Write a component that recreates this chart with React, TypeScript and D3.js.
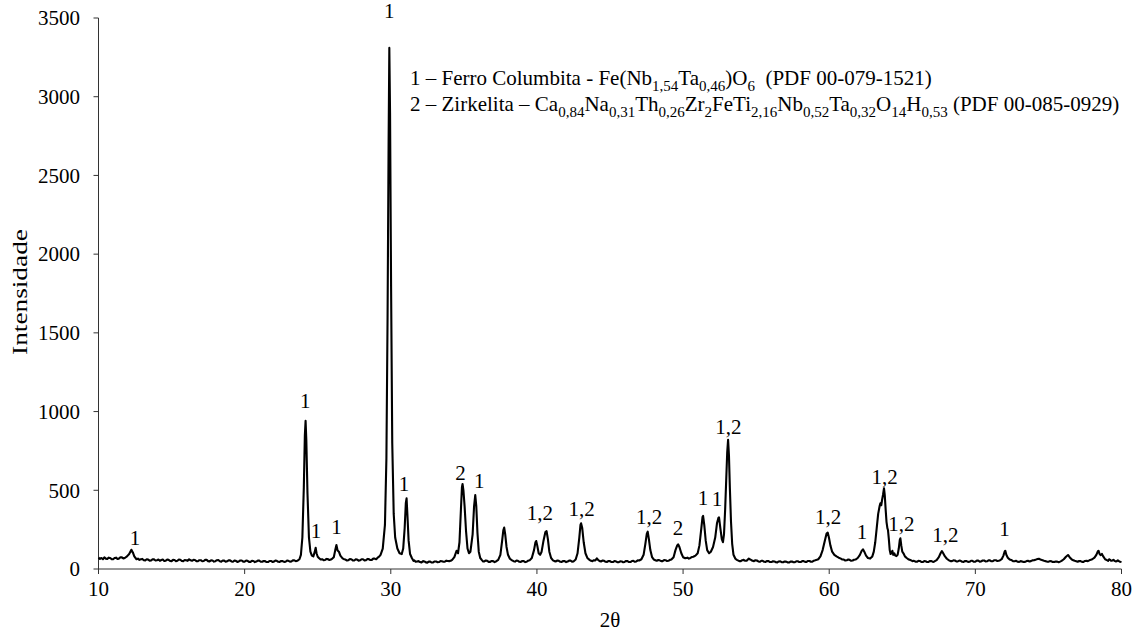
import React from "react";
import * as d3 from "d3";

// X-ray diffraction pattern: [2θ, intensity]
const pattern: [number, number][] = [
  [10.0,72],[10.1,64],[10.2,70],[10.3,62],[10.4,74],[10.5,66],[10.6,64],[10.7,72],[10.8,70],[10.9,63],[11.0,62],[11.1,70],[11.2,72],[11.3,64],[11.4,66],[11.5,75],[11.6,74],[11.7,67],[11.8,70],[11.95,80],[12.1,95],[12.25,122],[12.35,105],[12.45,80],[12.6,62],[12.7,66],[12.8,58],[12.9,62],[13.0,64],[13.1,56],[13.2,55],[13.3,62],[13.4,60],[13.5,53],[13.6,54],[13.7,62],[13.8,61],[13.9,54],[14.0,56],[14.1,60],[14.2,52],[14.3,57],[14.4,60],[14.5,51],[14.6,53],[14.7,60],[14.8,58],[14.9,51],[15.0,50],[15.1,58],[15.2,57],[15.3,50],[15.4,52],[15.5,60],[15.6,59],[15.7,51],[15.8,50],[15.9,57],[16.0,56],[16.1,52],[16.2,62],[16.3,55],[16.4,52],[16.5,58],[16.6,57],[16.7,50],[16.8,49],[16.9,56],[17.0,56],[17.1,49],[17.2,51],[17.3,58],[17.4,58],[17.5,50],[17.6,48],[17.7,55],[17.8,54],[17.9,47],[18.0,50],[18.1,56],[18.2,57],[18.3,49],[18.4,47],[18.5,54],[18.6,53],[18.7,46],[18.8,49],[18.9,55],[19.0,55],[19.1,48],[19.2,46],[19.3,53],[19.4,52],[19.5,45],[19.6,48],[19.7,54],[19.8,54],[19.9,47],[20.0,47],[20.1,53],[20.2,52],[20.3,45],[20.4,45],[20.5,52],[20.6,51],[20.7,44],[20.8,47],[20.9,53],[21.0,53],[21.1,46],[21.2,46],[21.3,51],[21.4,50],[21.5,44],[21.6,44],[21.7,51],[21.8,51],[21.9,45],[22.0,47],[22.1,53],[22.2,52],[22.3,46],[22.4,45],[22.5,51],[22.6,50],[22.7,45],[22.8,46],[22.9,53],[23.0,52],[23.1,47],[23.2,48],[23.3,56],[23.4,55],[23.5,50],[23.6,52],[23.75,62],[23.85,90],[23.95,200],[24.05,520],[24.12,850],[24.17,942],[24.22,820],[24.3,480],[24.4,200],[24.5,110],[24.6,85],[24.7,80],[24.8,110],[24.86,135],[24.92,100],[25.0,78],[25.1,68],[25.2,60],[25.3,62],[25.4,56],[25.5,57],[25.6,64],[25.7,63],[25.8,57],[25.9,60],[26.0,66],[26.1,75],[26.2,120],[26.28,152],[26.36,118],[26.45,110],[26.55,85],[26.7,68],[26.8,62],[26.9,60],[27.0,54],[27.1,56],[27.2,63],[27.3,62],[27.4,55],[27.5,54],[27.6,61],[27.7,60],[27.8,53],[27.9,55],[28.0,62],[28.1,62],[28.2,55],[28.3,56],[28.4,64],[28.5,63],[28.6,57],[28.7,58],[28.8,66],[28.9,66],[29.0,62],[29.1,72],[29.2,78],[29.3,90],[29.45,130],[29.6,280],[29.7,700],[29.78,1600],[29.85,2700],[29.9,3310],[29.95,2900],[30.02,1800],[30.1,800],[30.2,350],[30.3,200],[30.45,130],[30.6,100],[30.75,95],[30.85,130],[30.95,260],[31.03,420],[31.08,449],[31.14,340],[31.22,180],[31.32,95],[31.45,68],[31.55,52],[31.6,55],[31.7,46],[31.8,48],[31.9,50],[32.0,44],[32.1,41],[32.2,50],[32.3,48],[32.4,42],[32.5,40],[32.6,47],[32.7,47],[32.8,41],[32.9,42],[33.0,48],[33.1,48],[33.2,43],[33.3,44],[33.4,50],[33.5,49],[33.6,46],[33.7,47],[33.8,53],[33.9,51],[34.0,50],[34.1,52],[34.2,58],[34.35,75],[34.5,116],[34.6,100],[34.7,170],[34.8,380],[34.87,520],[34.91,540],[34.97,500],[35.05,400],[35.15,240],[35.25,130],[35.35,100],[35.45,110],[35.6,220],[35.7,400],[35.78,470],[35.85,400],[35.93,230],[36.02,110],[36.12,70],[36.25,55],[36.32,48],[36.4,48],[36.5,54],[36.6,52],[36.7,45],[36.8,45],[36.9,51],[37.0,50],[37.1,44],[37.2,48],[37.35,58],[37.5,90],[37.62,180],[37.7,245],[37.76,263],[37.83,220],[37.92,140],[38.02,90],[38.15,65],[38.3,55],[38.4,50],[38.5,47],[38.6,53],[38.7,52],[38.8,46],[38.9,45],[39.0,51],[39.1,50],[39.2,44],[39.3,46],[39.4,53],[39.5,55],[39.65,70],[39.8,120],[39.9,170],[39.95,178],[40.02,150],[40.12,100],[40.22,90],[40.32,110],[40.45,180],[40.58,235],[40.66,241],[40.75,190],[40.85,110],[40.97,70],[41.1,55],[41.2,50],[41.3,48],[41.4,54],[41.5,52],[41.6,46],[41.7,45],[41.8,51],[41.9,50],[42.0,44],[42.1,47],[42.2,53],[42.3,53],[42.4,47],[42.5,48],[42.65,60],[42.78,100],[42.9,200],[42.98,280],[43.02,290],[43.1,260],[43.2,170],[43.32,100],[43.45,70],[43.6,58],[43.7,52],[43.8,50],[43.9,56],[44.0,55],[44.1,68],[44.2,56],[44.3,50],[44.4,48],[44.5,54],[44.6,52],[44.7,46],[44.8,45],[44.9,51],[45.0,50],[45.1,44],[45.2,44],[45.3,50],[45.4,49],[45.5,43],[45.6,43],[45.7,49],[45.8,48],[45.9,43],[46.0,45],[46.1,51],[46.2,50],[46.3,44],[46.4,44],[46.5,51],[46.6,52],[46.7,46],[46.8,48],[46.9,55],[47.0,54],[47.15,62],[47.3,90],[47.42,160],[47.52,225],[47.58,237],[47.66,190],[47.76,120],[47.88,75],[48.0,60],[48.1,56],[48.2,52],[48.3,57],[48.4,55],[48.5,50],[48.6,50],[48.7,57],[48.8,56],[48.9,51],[49.0,52],[49.1,58],[49.2,60],[49.35,75],[49.48,120],[49.6,150],[49.66,157],[49.75,140],[49.88,100],[50.0,75],[50.15,68],[50.3,72],[50.4,66],[50.5,70],[50.6,76],[50.7,78],[50.85,85],[51.0,100],[51.12,150],[51.25,260],[51.33,330],[51.37,337],[51.45,280],[51.55,180],[51.65,120],[51.78,100],[51.9,110],[52.05,140],[52.2,200],[52.32,290],[52.42,325],[52.46,328],[52.55,260],[52.65,190],[52.73,170],[52.8,220],[52.88,380],[52.95,560],[53.02,740],[53.08,820],[53.14,720],[53.2,520],[53.28,300],[53.36,160],[53.45,90],[53.58,65],[53.68,58],[53.75,55],[53.85,50],[53.95,50],[54.05,56],[54.15,58],[54.25,52],[54.35,52],[54.45,62],[54.5,66],[54.6,60],[54.65,58],[54.75,52],[54.85,50],[54.95,56],[55.05,54],[55.15,48],[55.25,46],[55.35,52],[55.45,52],[55.55,46],[55.65,45],[55.75,51],[55.85,50],[55.95,44],[56.05,44],[56.15,49],[56.25,48],[56.35,43],[56.45,42],[56.55,48],[56.65,49],[56.75,43],[56.85,43],[56.95,48],[57.05,47],[57.15,42],[57.25,41],[57.35,47],[57.45,48],[57.55,43],[57.65,43],[57.75,49],[57.85,49],[57.95,44],[58.05,44],[58.15,50],[58.25,50],[58.35,45],[58.45,45],[58.55,51],[58.65,51],[58.75,46],[58.85,47],[58.95,53],[59.05,55],[59.15,58],[59.25,62],[59.4,80],[59.55,120],[59.7,180],[59.82,225],[59.9,231],[59.98,200],[60.08,150],[60.2,110],[60.35,90],[60.5,80],[60.65,72],[60.8,66],[60.9,60],[61.0,60],[61.1,54],[61.2,56],[61.3,60],[61.4,58],[61.5,52],[61.6,54],[61.7,59],[61.8,60],[61.95,70],[62.1,90],[62.22,115],[62.31,125],[62.4,110],[62.52,85],[62.65,70],[62.8,66],[62.95,80],[63.05,110],[63.15,170],[63.25,260],[63.35,350],[63.45,400],[63.5,417],[63.56,405],[63.62,440],[63.68,470],[63.75,513],[63.8,470],[63.86,380],[63.92,300],[63.98,260],[64.02,248],[64.08,190],[64.14,120],[64.2,95],[64.26,100],[64.32,116],[64.38,90],[64.45,100],[64.52,85],[64.6,82],[64.68,90],[64.76,130],[64.83,185],[64.87,195],[64.93,150],[65.0,110],[65.08,100],[65.18,80],[65.3,70],[65.45,60],[65.6,55],[65.7,50],[65.8,52],[65.9,47],[66.0,46],[66.1,52],[66.2,51],[66.3,45],[66.4,44],[66.5,50],[66.6,49],[66.7,44],[66.8,45],[66.9,51],[67.0,50],[67.1,45],[67.2,48],[67.35,56],[67.5,75],[67.62,100],[67.71,114],[67.8,100],[67.92,80],[68.05,65],[68.2,55],[68.3,50],[68.4,50],[68.5,55],[68.6,54],[68.7,48],[68.8,48],[68.9,53],[69.0,52],[69.1,46],[69.2,45],[69.3,51],[69.4,50],[69.5,45],[69.6,46],[69.7,52],[69.8,52],[69.9,46],[70.0,47],[70.1,53],[70.2,53],[70.3,47],[70.4,48],[70.5,54],[70.6,54],[70.7,48],[70.8,49],[70.9,55],[71.0,55],[71.1,49],[71.2,50],[71.3,56],[71.4,56],[71.5,51],[71.6,53],[71.7,56],[71.8,62],[71.92,85],[72.0,110],[72.05,116],[72.12,90],[72.22,72],[72.35,60],[72.5,55],[72.6,49],[72.7,50],[72.8,52],[72.9,46],[73.0,45],[73.1,50],[73.2,48],[73.3,44],[73.4,45],[73.5,50],[73.6,52],[73.7,48],[73.8,50],[73.9,55],[74.0,56],[74.1,58],[74.25,63],[74.35,65],[74.5,58],[74.6,55],[74.7,52],[74.8,50],[74.9,47],[75.0,46],[75.1,50],[75.2,49],[75.3,44],[75.4,45],[75.5,48],[75.6,47],[75.7,43],[75.8,47],[75.9,52],[76.05,62],[76.2,78],[76.34,89],[76.45,75],[76.6,60],[76.7,56],[76.8,52],[76.9,49],[77.0,46],[77.1,51],[77.2,50],[77.3,45],[77.4,45],[77.5,51],[77.6,52],[77.7,50],[77.8,55],[77.9,58],[78.0,62],[78.15,72],[78.28,90],[78.38,112],[78.43,116],[78.5,95],[78.58,88],[78.66,96],[78.75,80],[78.88,62],[79.0,56],[79.08,52],[79.15,62],[79.22,58],[79.3,52],[79.38,54],[79.45,58],[79.52,52],[79.6,48],[79.68,50],[79.75,55],[79.82,50],[79.9,46],[80.0,44],
];

// Phase labels above the peaks: [2θ, intensity of label centre, text]
const peakLabels: [number, number, string][] = [
  [12.5, 197, "1"],
  [24.15, 1069, "1"],
  [24.88, 243, "1"],
  [26.29, 269, "1"],
  [29.9, 3548, "1"],
  [30.9, 545, "1"],
  [34.77, 610, "2"],
  [36.05, 559, "1"],
  [40.2, 358, "1,2"],
  [43.05, 383, "1,2"],
  [47.67, 332, "1,2"],
  [49.66, 265, "2"],
  [51.37, 455, "1"],
  [52.32, 449, "1"],
  [53.1, 904, "1,2"],
  [59.92, 332, "1,2"],
  [62.24, 237, "1"],
  [63.8, 586, "1,2"],
  [64.94, 290, "1,2"],
  [67.95, 216, "1,2"],
  [72.0, 259, "1"],
];

const xTicks = [10, 20, 30, 40, 50, 60, 70, 80];
const yTicks = [0, 500, 1000, 1500, 2000, 2500, 3000, 3500];

// Legend pieces: [text, isSubscript]
const legend1: [string, boolean][] = [
  ["1 – Ferro Columbita - Fe(Nb", false], ["1,54", true], ["Ta", false], ["0,46", true],
  [")O", false], ["6", true], ["\u00A0\u00A0(PDF 00-079-1521)", false],
];
const legend2: [string, boolean][] = [
  ["2 – Zirkelita – Ca", false], ["0,84", true], ["Na", false], ["0,31", true],
  ["Th", false], ["0,26", true], ["Zr", false], ["2", true], ["FeTi", false], ["2,16", true],
  ["Nb", false], ["0,52", true], ["Ta", false], ["0,32", true], ["O", false], ["14", true],
  ["H", false], ["0,53", true], ["\u00A0(PDF 00-085-0929)", false],
];

const W = 1143, H = 634;
const left = 98.5, right = 1121.5, top = 18, bottom = 569;
const font = "Liberation Serif, DejaVu Serif, serif";
const FS = 21;

function LegendLine({ parts, x, y }: { parts: [string, boolean][]; x: number; y: number }) {
  const out: React.ReactNode[] = [];
  let shifted = false;
  parts.forEach(([t, sub], i) => {
    let dy = 0;
    if (sub && !shifted) { dy = 6; shifted = true; }
    else if (!sub && shifted) { dy = -6; shifted = false; }
    out.push(
      <tspan key={i} dy={dy} fontSize={sub ? 15 : FS}>{t}</tspan>
    );
  });
  return <text x={x} y={y} style={{ fontFamily: font }} fill="#000">{out}</text>;
}

export default function App() {
  const x = d3.scaleLinear().domain([10, 80]).range([left, right]);
  const y = d3.scaleLinear().domain([0, 3500]).range([bottom, top]);
  const line = d3.line<[number, number]>().x(d => x(d[0])).y(d => y(d[1]));
  const ts = { fontFamily: font };

  return (
    <svg width={W} height={H} style={{ position: "absolute", left: 0, top: 0, background: "#fff", fontFamily: font }}>
      <rect width={W} height={H} fill="#fff" />
      {/* axes */}
      <line x1={left} x2={left} y1={y(3500)} y2={bottom} stroke="#333" strokeWidth={1} />
      <line x1={left} x2={right} y1={bottom} y2={bottom} stroke="#333" strokeWidth={1} />
      {yTicks.map(t => (
        <g key={"y" + t}>
          <line x1={left - 5} x2={left} y1={y(t)} y2={y(t)} stroke="#333" />
          <text x={80} y={y(t)} dy="0.35em" textAnchor="end" style={ts} fontSize={FS}>{t}</text>
        </g>
      ))}
      {xTicks.map(t => (
        <g key={"x" + t}>
          <line x1={x(t)} x2={x(t)} y1={bottom} y2={bottom + 5} stroke="#333" />
          <text x={x(t)} y={bottom + 20} dy="0.35em" textAnchor="middle" style={ts} fontSize={FS}>{t}</text>
        </g>
      ))}
      <text x={610} y={620} dy="0.35em" textAnchor="middle" style={ts} fontSize={FS}>2θ</text>
      <text transform="translate(20,292) rotate(-90) scale(1.3,1)" dy="0.35em" textAnchor="middle" style={ts} fontSize={FS}>Intensidade</text>

      <path d={line(pattern) || ""} fill="none" stroke="#000" strokeWidth={2.1} strokeLinejoin="round" />

      {peakLabels.map(([px, py, t], i) => (
        <text key={i} x={x(px)} y={y(py)} dy="0.35em" textAnchor="middle" style={ts} fontSize={FS}>{t}</text>
      ))}

      <LegendLine parts={legend1} x={410} y={85} />
      <LegendLine parts={legend2} x={410} y={111} />
    </svg>
  );
}
